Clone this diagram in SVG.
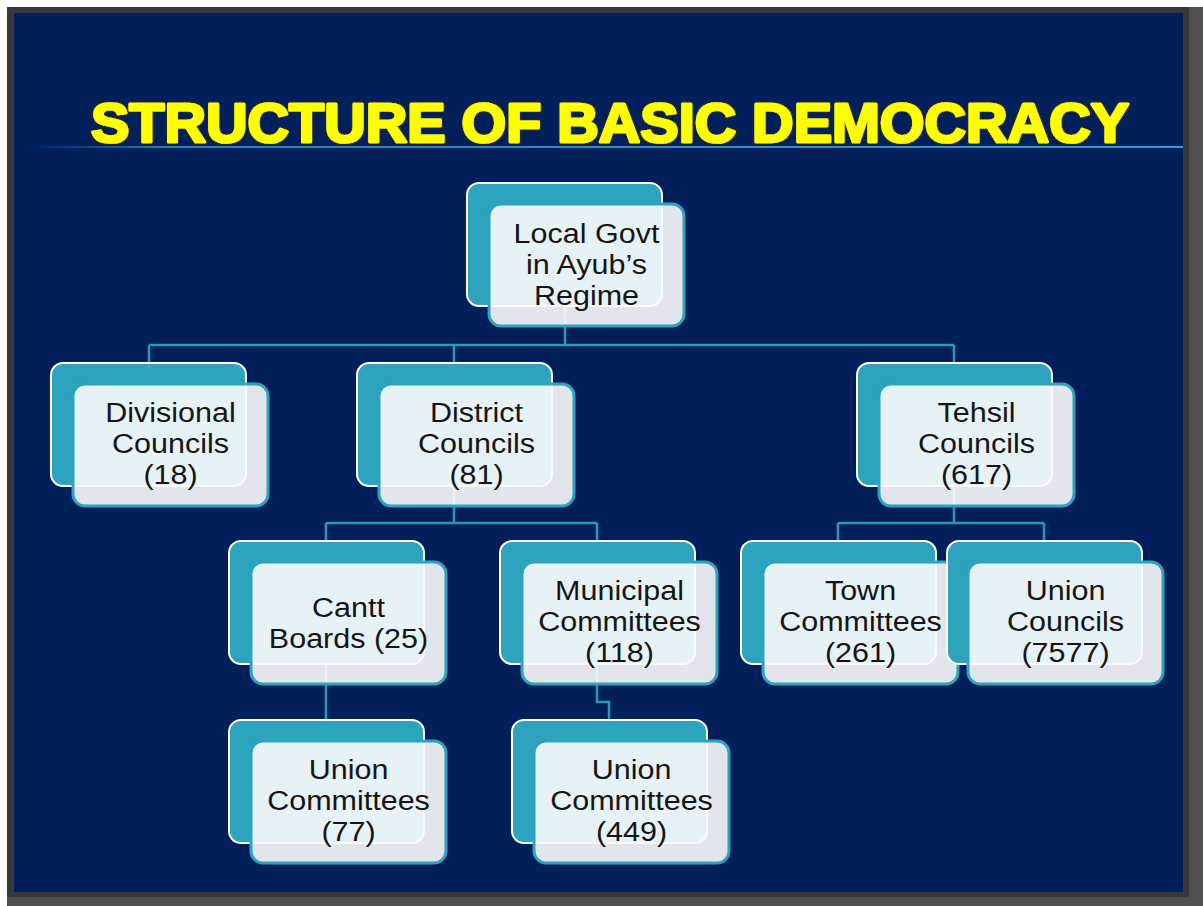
<svg xmlns="http://www.w3.org/2000/svg" width="1203" height="906" viewBox="0 0 1203 906">
<defs>
<style>
.back{fill:#2ea3be;stroke:#ffffff;stroke-width:2}
.front{fill:#faf9fc;fill-opacity:0.91;stroke:#2ea3be;stroke-width:3}
.lbl{font-family:"Liberation Sans",Arial,sans-serif;font-size:27px;fill:#151515;text-anchor:middle}
.conn{fill:none;stroke:#2e97ba;stroke-width:2.5}
.title{font-family:"Liberation Sans",Arial,sans-serif;font-weight:bold;font-size:56px;fill:#ffff00;stroke:#ffff00;stroke-width:2.6;stroke-linejoin:round}
</style>
<filter id="outline" x="-5%" y="-30%" width="110%" height="160%">
<feMorphology in="SourceAlpha" operator="dilate" radius="1.4" result="d"/>
<feFlood flood-color="#2a2a14"/>
<feComposite in2="d" operator="in" result="o"/>
<feMerge><feMergeNode in="o"/><feMergeNode in="SourceGraphic"/></feMerge>
</filter>
<linearGradient id="hl" x1="0" y1="0" x2="1" y2="0">
<stop offset="0" stop-color="#2a8ccc" stop-opacity="0"/>
<stop offset="0.12" stop-color="#2a8ccc" stop-opacity="0.9"/>
<stop offset="1" stop-color="#2f9bd6"/>
</linearGradient>
</defs>
<rect x="0" y="0" width="1203" height="906" fill="#ffffff"/>
<rect x="7" y="7" width="1196" height="899" fill="#505050"/>
<rect x="7" y="7" width="1182" height="890" fill="#383838"/>
<rect x="14" y="13" width="1169" height="879" fill="#001f5b"/>
<g id="title">
<rect x="30" y="146" width="1153" height="2" fill="url(#hl)"/>
<text class="title" x="91" y="142" textLength="1038" lengthAdjust="spacingAndGlyphs" filter="url(#outline)">STRUCTURE OF BASIC DEMOCRACY</text>
</g>
<g id="connectors">
<path class="conn" d="M565 307V345M149 345H954M149 345V363M454 345V363M954 345V363"/>
<path class="conn" d="M454 486V523M326 523H597M326 523V541M597 523V541"/>
<path class="conn" d="M954 486V523M838 523H1044M838 523V541M1044 523V541"/>
<path class="conn" d="M326 664V720"/>
<path class="conn" d="M597 664V702H609V720"/>
</g>
<g id="n-local">
<rect class="back" x="467" y="183" width="195" height="123" rx="12"/>
<rect class="front" x="489" y="204" width="195" height="122" rx="12"/>
<g transform="translate(586.5,0) scale(1.13,1)"><text class="lbl" x="0" y="243">Local Govt</text><text class="lbl" x="0" y="274">in Ayub’s</text><text class="lbl" x="0" y="305">Regime</text></g>
</g>
<g id="n-divisional">
<rect class="back" x="51" y="363" width="195" height="123" rx="12"/>
<rect class="front" x="73" y="384" width="195" height="122" rx="12"/>
<g transform="translate(170.5,0) scale(1.13,1)"><text class="lbl" x="0" y="422">Divisional</text><text class="lbl" x="0" y="453">Councils</text><text class="lbl" x="0" y="484">(18)</text></g>
</g>
<g id="n-district">
<rect class="back" x="357" y="363" width="195" height="123" rx="12"/>
<rect class="front" x="379" y="384" width="195" height="122" rx="12"/>
<g transform="translate(476.5,0) scale(1.13,1)"><text class="lbl" x="0" y="422">District</text><text class="lbl" x="0" y="453">Councils</text><text class="lbl" x="0" y="484">(81)</text></g>
</g>
<g id="n-tehsil">
<rect class="back" x="857" y="363" width="195" height="123" rx="12"/>
<rect class="front" x="879" y="384" width="195" height="122" rx="12"/>
<g transform="translate(976.5,0) scale(1.13,1)"><text class="lbl" x="0" y="422">Tehsil</text><text class="lbl" x="0" y="453">Councils</text><text class="lbl" x="0" y="484">(617)</text></g>
</g>
<g id="n-cantt">
<rect class="back" x="229" y="541" width="195" height="123" rx="12"/>
<rect class="front" x="251" y="562" width="195" height="122" rx="12"/>
<g transform="translate(348.5,0) scale(1.13,1)"><text class="lbl" x="0" y="617">Cantt</text><text class="lbl" x="0" y="648">Boards (25)</text></g>
</g>
<g id="n-municipal">
<rect class="back" x="500" y="541" width="195" height="123" rx="12"/>
<rect class="front" x="522" y="562" width="195" height="122" rx="12"/>
<g transform="translate(619.5,0) scale(1.13,1)"><text class="lbl" x="0" y="600">Municipal</text><text class="lbl" x="0" y="631">Committees</text><text class="lbl" x="0" y="662">(118)</text></g>
</g>
<g id="n-town">
<rect class="back" x="741" y="541" width="195" height="123" rx="12"/>
<rect class="front" x="763" y="562" width="195" height="122" rx="12"/>
<g transform="translate(860.5,0) scale(1.13,1)"><text class="lbl" x="0" y="600">Town</text><text class="lbl" x="0" y="631">Committees</text><text class="lbl" x="0" y="662">(261)</text></g>
</g>
<g id="n-unioncouncils">
<rect class="back" x="947" y="541" width="195" height="123" rx="12"/>
<rect class="front" x="968" y="562" width="195" height="122" rx="12"/>
<g transform="translate(1065.5,0) scale(1.13,1)"><text class="lbl" x="0" y="600">Union</text><text class="lbl" x="0" y="631">Councils</text><text class="lbl" x="0" y="662">(7577)</text></g>
</g>
<g id="n-union77">
<rect class="back" x="229" y="720" width="195" height="123" rx="12"/>
<rect class="front" x="251" y="741" width="195" height="122" rx="12"/>
<g transform="translate(348.5,0) scale(1.13,1)"><text class="lbl" x="0" y="779">Union</text><text class="lbl" x="0" y="810">Committees</text><text class="lbl" x="0" y="841">(77)</text></g>
</g>
<g id="n-union449">
<rect class="back" x="512" y="720" width="195" height="123" rx="12"/>
<rect class="front" x="534" y="741" width="195" height="122" rx="12"/>
<g transform="translate(631.5,0) scale(1.13,1)"><text class="lbl" x="0" y="779">Union</text><text class="lbl" x="0" y="810">Committees</text><text class="lbl" x="0" y="841">(449)</text></g>
</g>
</svg>
